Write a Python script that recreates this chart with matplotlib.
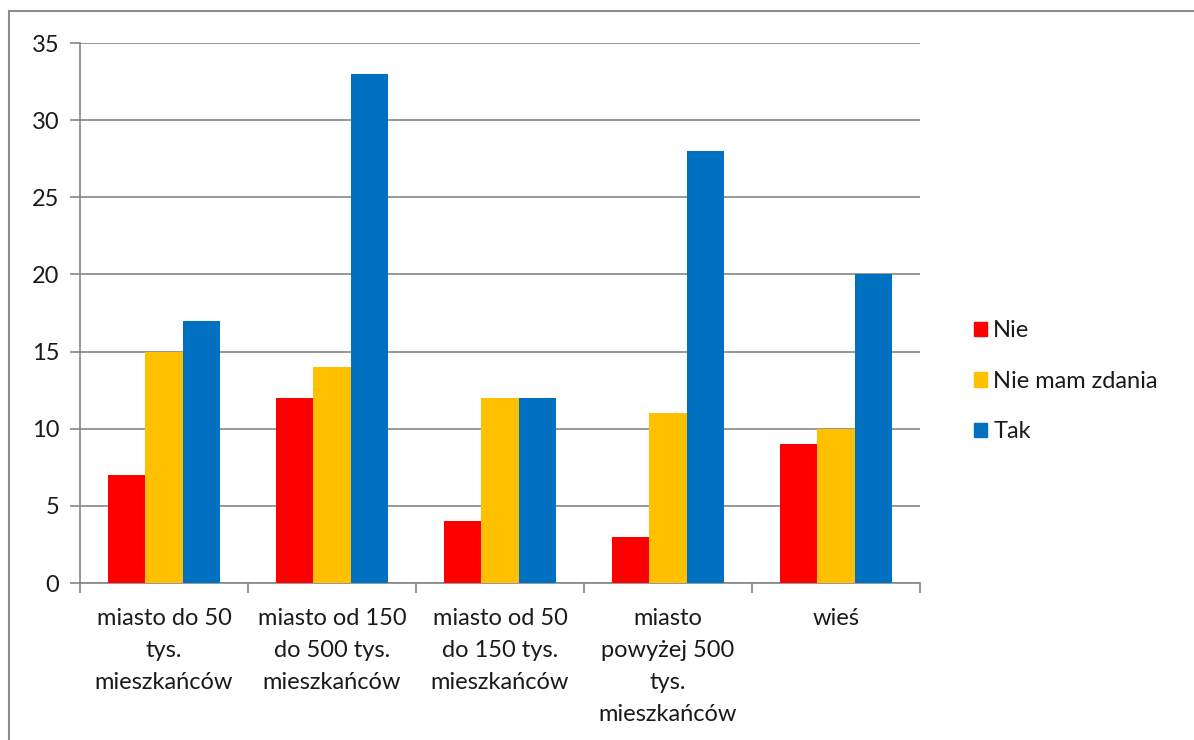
import matplotlib
import matplotlib.pyplot as plt
from matplotlib.patches import Patch, Rectangle
import numpy as np

matplotlib.use('Agg')
plt.rcParams['font.family'] = ['Lato', 'DejaVu Sans']

categories = ["miasto do 50\ntys.\nmieszkańców",
              "miasto od 150\ndo 500 tys.\nmieszkańców",
              "miasto od 50\ndo 150 tys.\nmieszkańców",
              "miasto\npowyżej 500\ntys.\nmieszkańców",
              "wieś"]
series_names = ["Nie", "Nie mam zdania", "Tak"]
nie = [7, 12, 4, 3, 9]
nie_mam_zdania = [15, 14, 12, 11, 10]
tak = [17, 33, 12, 28, 20]
colors = ["#FF0000", "#FFC000", "#0070C0"]

grey = "#868686"
fs = 17

fig = plt.figure(figsize=(11.94, 7.4), dpi=100)
ax = fig.add_axes([80 / 1194, 1 - 583 / 740, 840 / 1194, 540 / 740])

# outer chart frame
fig.patches.append(Rectangle((9 / 1194, -0.01), 1.0, 1 - 11 / 740 + 0.01,
                             transform=fig.transFigure, fill=False,
                             edgecolor="#8c8c8c", linewidth=1.5))

x = np.arange(len(categories))
width = 0.222
for i, (vals, name) in enumerate(zip([nie, nie_mam_zdania, tak], series_names)):
    ax.bar(x + (i - 1) * width, vals, width, color=colors[i], label=name, zorder=3)

ax.set_xlim(-0.5, len(categories) - 0.5)
ax.set_ylim(0, 35)
ax.set_yticks(range(0, 36, 5))
ax.yaxis.grid(True, color=grey, linewidth=1.2, zorder=0)

# category labels between tick marks at boundaries
ax.set_xticks(np.arange(-0.5, len(categories), 1))
ax.set_xticklabels([])
ax.set_xticks(x, minor=True)
ax.set_xticklabels(categories, minor=True, fontsize=fs, color="#1a1a1a",
                   linespacing=1.65, va="top")
ax.tick_params(axis="x", which="minor", length=0, pad=18)
ax.tick_params(axis="x", which="major", length=7, width=1.2, color=grey)
ax.tick_params(axis="y", length=7, width=1.2, color=grey, labelsize=fs,
               labelcolor="#1a1a1a", pad=8)

for side in ["top", "right"]:
    ax.spines[side].set_visible(False)
for side in ["left", "bottom"]:
    ax.spines[side].set_color(grey)
    ax.spines[side].set_linewidth(1.2)

handles = [Patch(color=c, label=n) for c, n in zip(colors, series_names)]
fig.legend(handles=handles, loc="upper left", bbox_to_anchor=(965 / 1194, 1 - 311 / 740),
           frameon=False, fontsize=fs, handlelength=0.55, handleheight=0.55,
           handletextpad=0.25, labelspacing=1.25, labelcolor="#1a1a1a",
           borderaxespad=0)

fig.savefig("out.png", dpi=100)
